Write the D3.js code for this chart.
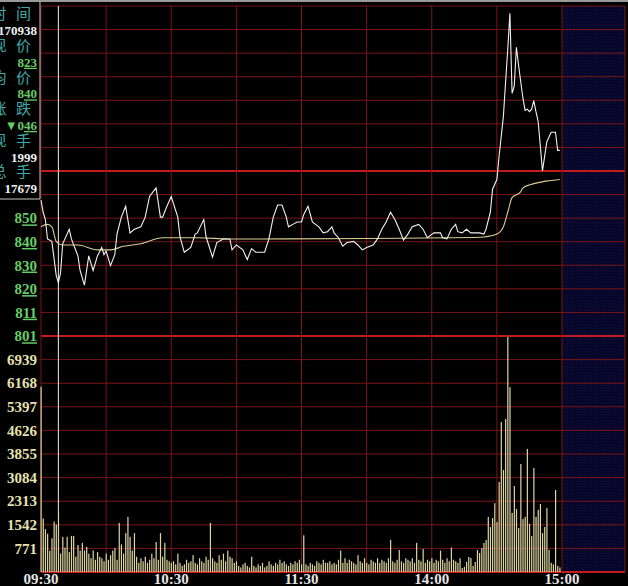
<!DOCTYPE html>
<html><head><meta charset="utf-8">
<script src="https://cdn.jsdelivr.net/npm/d3@7"></script>
<style>
html,body{margin:0;padding:0;background:#000;overflow:hidden;}
svg{display:block;}
</style></head><body>
<svg id="chart" width="628" height="586"></svg>
<script>
// ---------- DATA ----------
const timeLabels = ["09:30","10:30","11:30","14:00","15:00"];
const timeLabelMinutes = [0,60,120,180,240];
const priceMin = 801, prevClose = 869, priceMax = 937;
const priceTickLabels = ["801","811","820","830","840","850"];
const volumeTickLabels = ["771","1542","2313","3084","3855","4626","5397","6168","6939"];
const volumeMax = 7710;
const infoLabels = ["时间","现价","均价","涨跌","现手","总手"];
const infoValues = ["170938","823","840","▼046","1999","17679"];
const cursorMinute = 8;

const priceMinutes = [0,1,2,3,5,7,8,9,10,13,14,17,18,20,22,24,26,28,29,30,32,34,35,37,39,41,43,46,48,50,53,55,56,58,60,63,64,66,69,71,72,75,76,79,81,84,87,88,90,93,95,97,99,103,105,107,109,111,113,114,116,118,120,121,123,125,128,130,132,134,135,137,139,141,144,146,148,150,153,155,157,159,161,163,165,167,169,171,174,176,178,181,184,185,187,189,191,192,194,196,198,202,204,205,207,208,210,211,213,214,215,216,217,218,219,220,222,223,224,225,226,227,228,229,230,231,232,233,235,237,238,239];
const prices = [857,852,849,841,840,826,823,827,839,845,841,834,828,822,834,828,834,837.5,834.5,836,830,834.5,843,850,854.5,843.5,845,846,850,858.5,862,850,850,854.5,858.5,850,842,835.5,837.5,843,843.5,849,842,833.5,839.5,841,841,836.5,838.5,836.5,832.5,837,835.5,835.5,841,850,855,855,850,846,847,848,848,851,854.5,848,846,843.5,844,846,843.5,841.5,838,839.5,840,838.5,836.5,837.5,838.5,841,845,848,852,849,845,840.5,843,846,847,845,841.5,843.5,843.5,841.5,841,845,847,844,843.5,845,843.5,843.5,843,845,852,861.5,865.5,875,891.5,905.5,919,934,901,904,920,912.5,899,894,894.5,893.5,894.5,898,893.5,889.5,879.5,869,875,881,885,885,877.5,877.5];

const avgMinutes = [0,3,5,7,10,17,26,32,38,46,56,72,87,100,150,200,204,210,213,215,217,221,222,228,234,239];
const avgPrices = [846,847,846,840,838.5,838.5,836.5,836.5,838,839,841.5,841.5,841,841,841.2,841.6,841.8,843,846,852,858,860.5,862,864,865,865.5];

const volumes = [
6050,1750,1400,1250,700,1100,1650,1550,1999,600,
1150,800,1150,650,1180,1180,500,880,700,950,
700,820,600,450,700,400,650,500,450,350,
600,400,550,700,780,400,1600,900,600,1270,
1800,1150,700,1270,500,300,450,350,500,300,
400,600,450,980,400,1270,500,950,400,350,
300,350,250,600,300,200,250,400,300,350,
550,300,250,450,350,300,500,400,1600,450,
350,300,550,400,600,350,700,500,450,300,
350,200,150,250,300,200,150,500,200,150,
250,200,300,150,200,350,250,200,300,250,
400,300,350,250,200,300,250,350,300,400,
250,1200,250,200,300,250,200,350,300,250,
400,300,300,350,250,300,250,400,700,300,
450,300,400,350,300,250,550,350,300,450,
300,250,400,350,300,450,300,400,350,300,
450,1050,350,300,400,720,350,300,450,400,
350,450,300,950,400,350,750,300,400,350,
450,300,400,350,700,400,300,450,350,800,
400,350,300,450,130,170,330,490,460,200,
330,720,620,780,950,1045,1800,1470,1760,2250,
1630,2940,4900,3330,5000,7680,6040,1930,2810,2060,
1440,3530,1730,1800,4020,1570,1180,3400,1800,2030,
2220,1270,1470,2090,720,300,250,2680,200,150
];

// ---------- DRAW ----------
const W = 628, H = 586;
const svg = d3.select("#chart");
const x = d3.scaleLinear().domain([0, 240]).range([41, 562]);
const yP = d3.scaleLinear().domain([priceMin, priceMax]).range([336, 6]);
const yV = d3.scaleLinear().domain([0, volumeMax]).range([572, 336]);
const rightEdge = 625;

svg.append("rect").attr("width", W).attr("height", H).attr("fill", "#000");

const defs = svg.append("defs");
const pat = defs.append("pattern").attr("id", "hatch")
  .attr("width", 3).attr("height", 3).attr("patternUnits", "userSpaceOnUse");
pat.append("rect").attr("width", 3).attr("height", 3).attr("fill", "#05052a");
pat.append("rect").attr("width", 1).attr("height", 1).attr("fill", "#12123e");
pat.append("rect").attr("x", 2).attr("y", 1).attr("width", 1).attr("height", 1).attr("fill", "#0e0e36");

// top gray strip
svg.append("rect").attr("x", 0).attr("y", 0).attr("width", W).attr("height", 2).attr("fill", "#9a9a9a");

// after-hours hatched area
svg.append("rect").attr("x", x(240)).attr("y", 6)
  .attr("width", rightEdge - x(240)).attr("height", 572 - 6)
  .attr("fill", "url(#hatch)");

const gridColor = "#7c1616", thickColor = "#c41c1c";
const g = svg.append("g");

// horizontal price grid
const priceLevels = d3.range(15).map(i => priceMin + i * (priceMax - priceMin) / 14);
priceLevels.forEach(p => {
  const thick = Math.abs(p - prevClose) < 0.01 || Math.abs(p - priceMin) < 0.01;
  g.append("line").attr("x1", 41).attr("x2", rightEdge)
    .attr("y1", yP(p)).attr("y2", yP(p))
    .attr("stroke", thick ? thickColor : gridColor)
    .attr("stroke-width", thick ? 2 : 1);
});
// horizontal volume grid
d3.range(1, 10).forEach(i => {
  const v = i * 771;
  g.append("line").attr("x1", 41).attr("x2", rightEdge)
    .attr("y1", yV(v)).attr("y2", yV(v))
    .attr("stroke", gridColor).attr("stroke-width", 1);
});
g.append("line").attr("x1", 41).attr("x2", rightEdge)
  .attr("y1", yV(0)).attr("y2", yV(0)).attr("stroke", thickColor).attr("stroke-width", 2);
// vertical grid
d3.range(0, 271, 30).forEach(m => {
  const xx = m === 270 ? rightEdge : x(m);
  g.append("line").attr("x1", xx).attr("x2", xx).attr("y1", 6).attr("y2", 572)
    .attr("stroke", gridColor).attr("stroke-width", 1);
});

// volume bars
svg.append("g").selectAll("rect").data(volumes).join("rect")
  .attr("x", (d, i) => x(i) - 0.5)
  .attr("width", 1.2)
  .attr("y", d => yV(d))
  .attr("height", d => yV(0) - yV(d))
  .attr("fill", "#dcd6a2");

// cursor line
svg.append("line").attr("x1", x(cursorMinute)).attr("x2", x(cursorMinute))
  .attr("y1", 6).attr("y2", yV(volumes[cursorMinute]))
  .attr("stroke", "#f0f0f0").attr("stroke-width", 1);

// average line
const avgLine = d3.line().x((d, i) => x(avgMinutes[i])).y(d => yP(d)).curve(d3.curveMonotoneX);
svg.append("path").datum(avgPrices).attr("d", avgLine)
  .attr("fill", "none").attr("stroke", "#d8cc90").attr("stroke-width", 1.1);

// price line
const priceLine = d3.line().x((d, i) => x(priceMinutes[i])).y(d => yP(d));
svg.append("path").datum(prices).attr("d", priceLine)
  .attr("fill", "none").attr("stroke", "#f2f2f2").attr("stroke-width", 1.1);

const serif = "'Liberation Serif','DejaVu Serif',serif";

// price labels (last two digits underlined = decimals)
priceTickLabels.forEach((lab, i) => {
  const t = svg.append("text").attr("x", 37).attr("y", yP(priceLevels[i])).attr("dy", "0.35em")
    .attr("text-anchor", "end").attr("font-family", serif).attr("font-weight", "bold")
    .attr("font-size", 15).attr("fill", "#66cc66");
  t.append("tspan").text(lab.slice(0, lab.length - 2));
  t.append("tspan").style("text-decoration", "underline").text(lab.slice(-2));
});

// volume labels
volumeTickLabels.forEach((lab, i) => {
  svg.append("text").attr("x", 37).attr("y", yV((i + 1) * 771)).attr("dy", "0.35em")
    .attr("text-anchor", "end").attr("font-family", serif).attr("font-weight", "bold")
    .attr("font-size", 15).attr("fill", "#e6e0b0").text(lab);
});

// time labels
timeLabels.forEach((lab, i) => {
  svg.append("text").attr("x", x(timeLabelMinutes[i])).attr("y", 584)
    .attr("text-anchor", "middle").attr("font-family", serif).attr("font-weight", "bold")
    .attr("font-size", 15).attr("fill", "#e6e6e6").text(lab);
});

// info panel
const panel = svg.append("g");
panel.append("rect").attr("x", 0).attr("y", 2).attr("width", 40).attr("height", 197).attr("fill", "#000");
panel.append("line").attr("x1", 40).attr("x2", 40).attr("y1", 2).attr("y2", 199)
  .attr("stroke", "#c8c8c8").attr("stroke-width", 1);
panel.append("line").attr("x1", 0).attr("x2", 40).attr("y1", 199).attr("y2", 199)
  .attr("stroke", "#c8c8c8").attr("stroke-width", 1);
const valueColors = ["#f0f0f0", "#66cc66", "#66cc66", "#66cc66", "#f0f0f0", "#f0f0f0"];
const underlined = [false, true, true, true, false, false];
infoLabels.forEach((lab, i) => {
  const ly = 14 + i * 31.6, vy = 30.5 + i * 31.6;
  [...lab].forEach((ch, k) => {
    panel.append("text").attr("x", k === 0 ? -1 : 23.5).attr("y", ly).attr("dy", "0.36em")
      .attr("text-anchor", "middle").attr("font-family", "'Noto Sans CJK SC',sans-serif")
      .attr("font-size", 15).attr("fill", "#40a8a8").text(ch);
  });
  const val = infoValues[i];
  const t = panel.append("text").attr("x", 37).attr("y", vy).attr("dy", "0.36em")
    .attr("text-anchor", "end").attr("font-family", serif).attr("font-weight", "bold")
    .attr("font-size", 13).attr("fill", valueColors[i]);
  if (underlined[i]) {
    t.append("tspan").text(val.slice(0, val.length - 2));
    t.append("tspan").style("text-decoration", "underline").text(val.slice(-2));
  } else {
    t.text(val);
  }
});
</script>
</body></html>
